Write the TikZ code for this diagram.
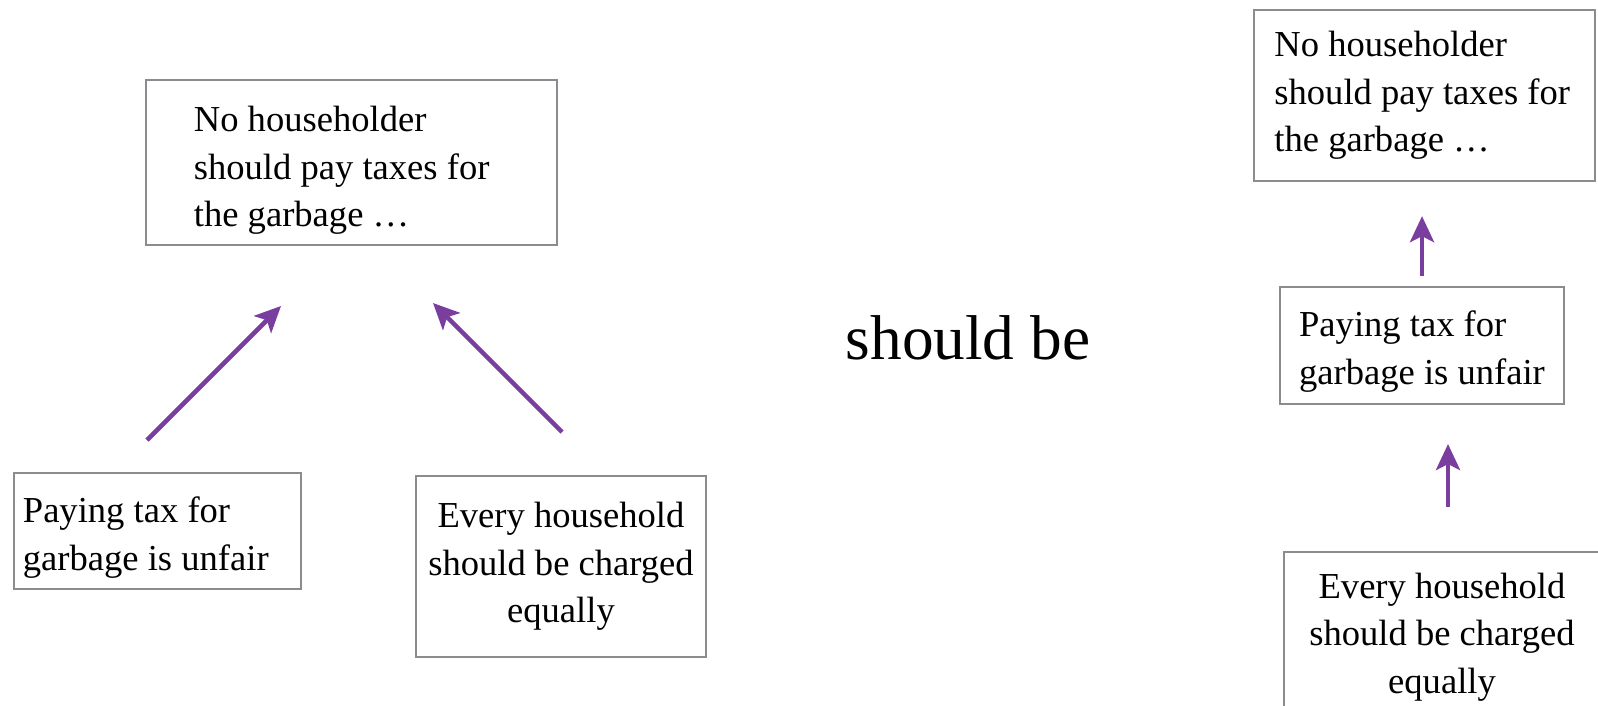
\documentclass[tikz,border=0pt]{standalone}
\usepackage{fontspec}
\setmainfont{Liberation Serif}
\usepackage{tikz}
\usetikzlibrary{arrows.meta,positioning}
\definecolor{argpurple}{HTML}{7A3F9E}
\definecolor{boxgray}{HTML}{8C8C90}

\begin{document}
\begin{tikzpicture}[
x=0.01cm,y=-0.01cm,
claim/.style={draw=boxgray,line width=0.6pt,inner sep=0pt,align=flush left,
font=\fontsize{10.4}{13.5}\selectfont},
claimc/.style={claim,align=center},
arr/.style={-{Stealth[length=2.6mm,width=2.4mm,inset=0.6mm]},
draw=argpurple,line width=1.3pt}
]
\useasboundingbox (0,0) rectangle (1598,705);
\clip (0,0) rectangle (1598,705);

% left: two reasons side by side
\node[claim,minimum width=4.11cm,minimum height=1.65cm,text width=3.15cm,text height=0.41cm]
  (goal) at (351.5,162.5) {No householder\\should pay taxes for\\the garbage \dots};
\node[claim,minimum width=2.87cm,minimum height=1.16cm,text width=2.69cm,text height=0.39cm]
  (unfair) at (157.5,531) {Paying tax for\\garbage is unfair};
\node[claimc,minimum width=2.90cm,minimum height=1.81cm]
  (equal) at (561,566.5) {Every household\\should be charged\\equally};

\node[font=\fontsize{18}{22}\selectfont] (sb) at (968,338) {should be};

% right: one chain
\node[claim,minimum width=3.41cm,minimum height=1.71cm,text width=3.0cm]
  (rgoal) at (1424.5,95.5) {No householder\\should pay taxes for\\the garbage \dots};
\node[claim,minimum width=2.84cm,minimum height=1.17cm,text height=0.85cm]
  (runfair) at (1422,345.5) {Paying tax for\\garbage is unfair};
\node[claimc,minimum width=3.16cm,minimum height=1.70cm]
  (requal) at (1442,637) {Every household\\should be charged\\equally};

\coordinate (ua) at (147,440);  \coordinate (ub) at (281,306);
\coordinate (ea) at (562,432);  \coordinate (eb) at (433,303);
\coordinate (ra) at (1448,507); \coordinate (rb) at (1448,444);

\foreach \a/\b in {ua/ub,ea/eb,ra/rb} \draw[arr] (\a) -- (\b);
\draw[arr,shorten <=0.10cm,shorten >=0.34cm] (runfair.north) -- (runfair.north |- rgoal.south);
\end{tikzpicture}
\end{document}
